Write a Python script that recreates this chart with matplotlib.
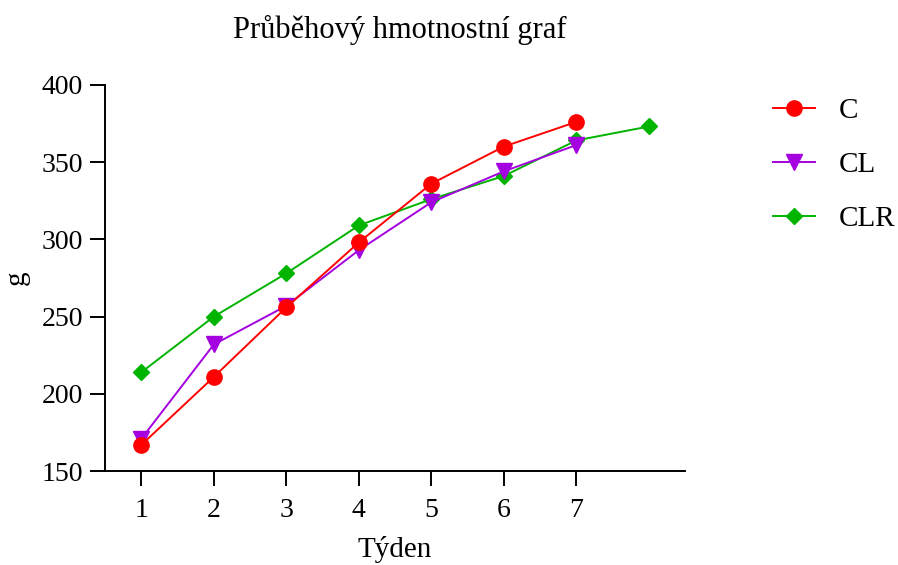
import matplotlib
matplotlib.use('Agg')
import matplotlib.pyplot as plt

plt.rcParams['font.family'] = ['Liberation Serif', 'DejaVu Serif']

# --- Data ---
weeks_c = [1, 2, 3, 4, 5, 6, 7]
c_vals = [167, 211, 256, 298, 336, 360, 376]

weeks_cl = [1, 2, 3, 4, 5, 6, 7]
cl_vals = [171, 232, 257, 293, 324, 344, 361]

weeks_clr = [1, 2, 3, 4, 5, 6, 7, 8]
clr_vals = [214, 250, 278, 309, 326, 341, 364, 373]

x_ticks = [1, 2, 3, 4, 5, 6, 7]
y_ticks = [150, 200, 250, 300, 350, 400]

fig = plt.figure(figsize=(8.98, 5.65), dpi=100)
ax = fig.add_axes([0.117, 0.166, 0.646, 0.684])

l3, = ax.plot(weeks_clr, clr_vals, color='#00B400', lw=1.4, marker='D',
              markersize=8, label='CLR', zorder=3)
l2, = ax.plot(weeks_cl, cl_vals, color='#A400E0', lw=1.4, marker='v',
              markersize=11, label='CL', zorder=4)
l1, = ax.plot(weeks_c, c_vals, color='#FF0000', lw=1.4, marker='o',
              markersize=11, label='C', zorder=5)

ax.set_xlim(0.5, 8.5)
ax.set_ylim(150, 400)
ax.set_xticks(x_ticks)
ax.set_yticks(y_ticks)
ax.tick_params(direction='out', length=11, width=1.4, labelsize=20, pad=5)
ax.tick_params(axis='x', pad=8)

for s in ['top', 'right']:
    ax.spines[s].set_visible(False)
for s in ['left', 'bottom']:
    ax.spines[s].set_linewidth(1.4)

ax.set_xlabel('Týden', fontsize=21, labelpad=10)
ax.set_ylabel('g', fontsize=21, labelpad=8)
fig.suptitle('Průběhový hmotnostní graf', fontsize=22, x=0.445, y=0.973)

fig.legend(handles=[l1, l2, l3], loc='upper left',
           bbox_to_anchor=(0.861, 0.827), frameon=False, fontsize=21,
           handlelength=1.45, labelspacing=0.95, handletextpad=0.8,
           borderpad=0, borderaxespad=0)

fig.savefig('out.png', dpi=100, facecolor='white')
